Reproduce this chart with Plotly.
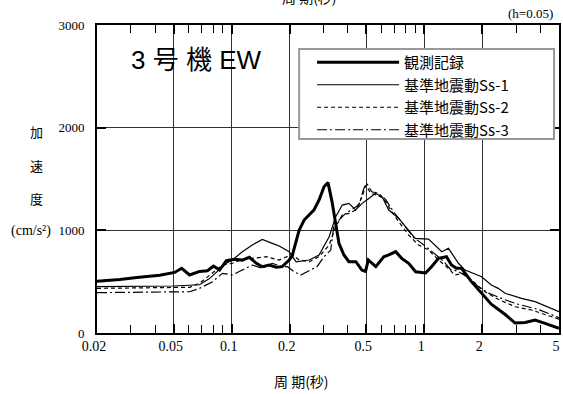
import plotly.graph_objects as go
import math

# ---- data (period [s], acceleration [cm/s^2]) ----
obs_T = [0.02,0.0263,0.0322,0.0423,0.0506,0.055,0.0605,0.0681,0.0749,0.0805,0.0865,0.0939,0.1033,0.1136,0.1235,0.1343,0.1442,0.1567,0.1704,0.183,0.1988,0.206,0.2239,0.2377,0.2677,0.2841,0.3016,0.3163,0.3317,0.3479,0.3605,0.3826,0.406,0.4413,0.4739,0.495,0.512,0.5599,0.6156,0.6535,0.7103,0.7628,0.829,0.9011,1.0146,1.09,1.1849,1.3032,1.3829,1.4676,1.5578,1.7551,2.024,2.2263,2.629,2.9608,3.3354,3.757,4.233,5.0]
obs_A = [505,520,540,562,590,630,565,600,607,652,613,704,718,710,737,679,646,662,640,646,711,750,1000,1100,1200,1295,1425,1465,1280,1020,873,760,694,694,613,600,711,646,743,760,792,727,679,597,585,646,727,743,662,630,630,500,370,280,180,97,102,127,94,46]

ss1_T = [0.02,0.05,0.0681,0.0767,0.0865,0.0939,0.1009,0.1136,0.128,0.1442,0.1624,0.1765,0.1988,0.2161,0.2525,0.2841,0.3206,0.3467,0.3749,0.406,0.4397,0.4756,0.5151,0.558,0.6036,0.6535,0.7361,0.829,0.897,1.0518,1.2325,1.3342,1.503,1.6277,1.9835,2.2263,2.4189,2.629,2.9608,3.1916,3.757,5.0]
ss1_A = [451,458,470,530,620,680,711,792,857,912,873,847,792,694,711,760,938,1133,1246,1263,1198,1263,1311,1360,1327,1198,1117,1003,922,915,792,825,679,613,548,467,435,387,354,338,305,207]

ss2_T = [0.02,0.05,0.0605,0.0681,0.0796,0.0896,0.1009,0.1136,0.128,0.1512,0.1765,0.206,0.2239,0.2525,0.2841,0.3206,0.3467,0.3749,0.406,0.4397,0.4756,0.497,0.5275,0.5665,0.6156,0.6691,0.7361,0.829,0.9339,1.0518,1.1849,1.3342,1.433,1.5953,1.7969,2.065,2.4189,2.9608,3.595,4.751,5.0]
ss2_A = [435,440,445,484,581,662,679,718,727,743,711,766,711,694,743,857,1035,1149,1165,1198,1327,1441,1360,1344,1311,1198,1084,954,857,808,711,630,565,581,500,402,328,256,224,143,135]

ss3_T = [0.02,0.05,0.0605,0.0681,0.0796,0.0896,0.1009,0.1136,0.128,0.1442,0.1624,0.183,0.1949,0.211,0.2285,0.2463,0.2775,0.3016,0.3267,0.3396,0.3904,0.4574,0.4853,0.503,0.5334,0.58,0.6303,0.6935,0.7812,0.88,0.9914,1.1168,1.2579,1.3666,1.503,1.6925,1.9066,2.1478,2.567,3.0691,3.8941,5.0]
ss3_A = [393,395,402,435,500,581,565,613,662,630,679,646,646,597,565,597,646,743,808,1051,1165,1246,1409,1457,1376,1360,1300,1180,1050,930,860,780,700,620,600,540,450,390,330,280,230,150]

series_names = ["観測記録", "基準地震動Ss-1", "基準地震動Ss-2", "基準地震動Ss-3"]
x_tickvals = [0.02, 0.05, 0.1, 0.2, 0.5, 1, 2, 5]
x_ticktext = ["0.02", "0.05", "0.1", "0.2", "0.5", "1", "2", "5"]
x_minor = [0.03, 0.04, 0.06, 0.07, 0.08, 0.09, 0.3, 0.4, 0.6, 0.7, 0.8, 0.9, 3, 4]
y_tickvals = [0, 1000, 2000, 3000]

SERIF = "Liberation Serif"
JP = "Noto Sans CJK JP"
LEG = "Noto Sans CJK JP"

W, H = 563, 394
ML, MR, MT, MB = 97, 2, 25, 61
PW, PH = W - ML - MR, H - MT - MB


def px(x):
    return (x - ML) / PW


def py(y):
    return (H - MB - y) / PH


fig = go.Figure()
styles = [
    dict(width=3, dash="solid"),
    dict(width=1.2, dash="solid"),
    dict(width=1.2, dash="4px,3px"),
    dict(width=1.2, dash="10px,3px,2px,3px"),
]
for name, T, A, st in zip(series_names, [obs_T, ss1_T, ss2_T, ss3_T],
                          [obs_A, ss1_A, ss2_A, ss3_A], styles):
    fig.add_trace(go.Scatter(x=T, y=A, mode="lines", name=name,
                             line=dict(color="black", width=st["width"], dash=st["dash"])))

fig.update_layout(
    width=W, height=H,
    margin=dict(l=ML, r=MR, t=MT, b=MB),
    paper_bgcolor="white", plot_bgcolor="white",
    showlegend=True,
    legend=dict(x=px(313), y=py(46), xanchor="left", yanchor="top",
                bgcolor="rgba(0,0,0,0)", borderwidth=0,
                font=dict(family=LEG, size=15, color="black"),
                itemwidth=82, tracegroupgap=0),
    font=dict(family=SERIF, color="black", size=13),
)
fig.add_shape(type="rect", xref="paper", yref="paper",
              x0=px(300), x1=px(556), y0=py(139), y1=py(49),
              fillcolor="white", line=dict(color="#999999", width=2), layer="above")

fig.update_xaxes(
    type="log", range=[math.log10(0.02), math.log10(5)],
    tickmode="array", tickvals=x_tickvals, ticktext=x_ticktext,
    ticks="inside", ticklen=9, tickwidth=1.5, tickcolor="black",
    showgrid=True, gridcolor="#333333", gridwidth=1,
    showline=True, linecolor="black", linewidth=2, mirror="ticks",
    tickfont=dict(family=SERIF, size=14, color="black"),
    ticklabelstandoff=-1, ticklabelshift=-3,
    minor=dict(tickmode="array", tickvals=x_minor, ticks="inside", ticklen=8,
               tickwidth=1, tickcolor="black", showgrid=False),
    zeroline=False,
)
fig.update_yaxes(
    range=[0, 3000], tickmode="array", tickvals=y_tickvals,
    ticks="inside", ticklen=9, tickwidth=1.5, tickcolor="black",
    showgrid=True, gridcolor="#333333", gridwidth=1,
    showline=True, linecolor="black", linewidth=2, mirror="ticks",
    tickfont=dict(family=SERIF, size=13, color="black"),
    ticklabelstandoff=8,
    zeroline=False,
)

ann = [
    ("3 号 機 EW", 129, 60, "left", dict(family="Liberation Sans, " + JP, size=26)),
    ("(h=0.05)", 557, 13, "right", dict(family=SERIF, size=13)),
    ("周 期(秒)", 302, 381, "center", dict(family=JP, size=14)),
    ("周 期(秒)", 310, -3, "center", dict(family=JP, size=14)),
    ("加", 36, 131, "center", dict(family=JP, size=13)),
    ("速", 36, 165, "center", dict(family=JP, size=13)),
    ("度", 36, 198, "center", dict(family=JP, size=13)),
    ("(cm/s²)", 31, 231, "center", dict(family=SERIF, size=14)),
]
for text, x, y, xa, f in ann:
    f = dict(f, color="black")
    fig.add_annotation(text=text, x=px(x), y=py(y), xref="paper", yref="paper",
                       xanchor=xa, yanchor="middle", showarrow=False, font=f)

fig.write_html("out.html", config={"displayModeBar": False},
               post_script="document.body.style.margin='0';")
